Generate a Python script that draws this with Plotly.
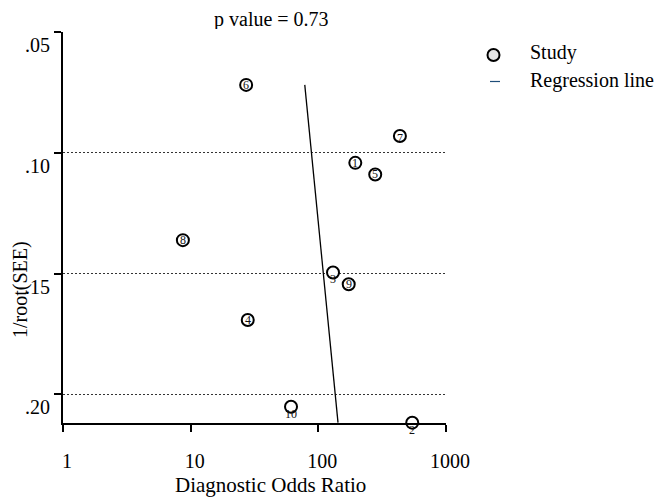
import numpy as np
import plotly.graph_objects as go

# ---- data ----
study_ids = ["1", "2", "3", "4", "5", "6", "7", "8", "9", "10"]
dor = [194.8, 544.0, 130.3, 28.0, 279.0, 27.2, 435.5, 8.69, 173.0, 61.1]
inv_root_ess = [0.1041, 0.2117, 0.1495, 0.1692, 0.1089, 0.0718, 0.0930, 0.1361, 0.1544, 0.2051]
reg_dor = [78.3, 142.6]
reg_y = [0.0718, 0.2117]
x_ticks = [1, 10, 100, 1000]
x_ticktext = ["1", "10", "100", "1000"]
y_ticks = [0.05, 0.10, 0.15, 0.20]
y_ticktext = [".05", ".10", ".15", ".20"]
p_value_text = "p value = 0.73"

# ---- style ----
FONT = "Liberation Serif"
OFF = 8  # page body margin of the browser
W, H = 664 - OFF, 500 - OFF
L, R, T, B = 63 - OFF, 446 - OFF, 32 - OFF, 423 - OFF
label_yshift = [0, -7, -7, 0, 0, 0, -2, 0, 0, -7]


def px_x(p):
    return (p - OFF - L) / (R - L)


def px_y(p):
    return (B - (p - OFF)) / (B - T)


fig = go.Figure()

fig.add_trace(go.Scatter(
    x=reg_dor, y=reg_y, mode="lines",
    line=dict(color="black", width=1.3),
    name="Regression line", showlegend=False, hoverinfo="skip",
))

fig.add_trace(go.Scatter(
    x=dor, y=inv_root_ess, mode="markers",
    marker=dict(symbol="circle", size=12, color="white",
                line=dict(color="black", width=2)),
    name="Study", showlegend=False, cliponaxis=False,
))

annotations = []
for sid, xv, yv, ys in zip(study_ids, dor, inv_root_ess, label_yshift):
    annotations.append(dict(
        x=np.log10(xv), y=yv, xref="x", yref="y", text=sid, showarrow=False,
        font=dict(family=FONT, size=12, color="#111"), yshift=ys,
    ))

# title
annotations.append(dict(
    x=px_x(271), y=px_y(19), xref="paper", yref="paper",
    text=p_value_text, showarrow=False,
    font=dict(family=FONT, size=20, color="black"),
    xanchor="center", yanchor="middle", height=20, valign="middle",
))
# axis titles
annotations.append(dict(
    x=px_x(270), y=px_y(485), xref="paper", yref="paper",
    text="Diagnostic Odds Ratio", showarrow=False,
    font=dict(family=FONT, size=21, color="black"),
    xanchor="center", yanchor="middle",
))
annotations.append(dict(
    x=px_x(20), y=px_y(290), xref="paper", yref="paper",
    text="1/root(SEE)", showarrow=False, textangle=-90,
    font=dict(family=FONT, size=20, color="black"),
    xanchor="center", yanchor="middle",
))
# legend texts
annotations.append(dict(
    x=px_x(528), y=px_y(52), xref="paper", yref="paper",
    text="Study", showarrow=False,
    font=dict(family=FONT, size=20, color="black"),
    xanchor="left", yanchor="middle",
))
annotations.append(dict(
    x=px_x(528), y=px_y(80), xref="paper", yref="paper",
    text="Regression line", showarrow=False,
    font=dict(family=FONT, size=20, color="black"),
    xanchor="left", yanchor="middle",
))

shapes = [
    dict(type="circle", xref="paper", yref="paper",
         x0=px_x(487.5), x1=px_x(499.5), y0=px_y(61), y1=px_y(49),
         line=dict(color="black", width=2), fillcolor="#e6e6e6"),
    dict(type="line", xref="paper", yref="paper",
         x0=px_x(490), x1=px_x(500), y0=px_y(81.5), y1=px_y(81.5),
         line=dict(color="#1f4e79", width=1.2)),
]

y_bottom = 0.05 + (B - T) / 2416.0

fig.update_layout(
    width=W, height=H,
    margin=dict(l=L, r=W - R, t=T, b=H - B, autoexpand=False),
    paper_bgcolor="white", plot_bgcolor="white",
    font=dict(family=FONT, size=20, color="black"),
    annotations=annotations,
    shapes=shapes,
    showlegend=False,
)

fig.update_xaxes(
    type="log", range=[0, 3],
    tickvals=x_ticks, ticktext=x_ticktext,
    showline=True, linecolor="black", linewidth=2,
    ticks="outside", ticklen=7, tickwidth=1.5, tickcolor="black",
    showgrid=False, zeroline=False,
    tickfont=dict(family=FONT, size=20, color="black"),
    ticklabelshift=4, ticklabelstandoff=12,
)

fig.update_yaxes(
    range=[y_bottom, 0.0499],
    tickvals=y_ticks, ticktext=y_ticktext,
    showline=True, linecolor="black", linewidth=2,
    ticks="outside", ticklen=7, tickwidth=1.5, tickcolor="black",
    showgrid=True, gridcolor="#333", gridwidth=1, griddash="2px,2px",
    zeroline=False,
    tickfont=dict(family=FONT, size=20, color="black"),
    ticklabelshift=-13,
)

fig.write_html("out.html")
